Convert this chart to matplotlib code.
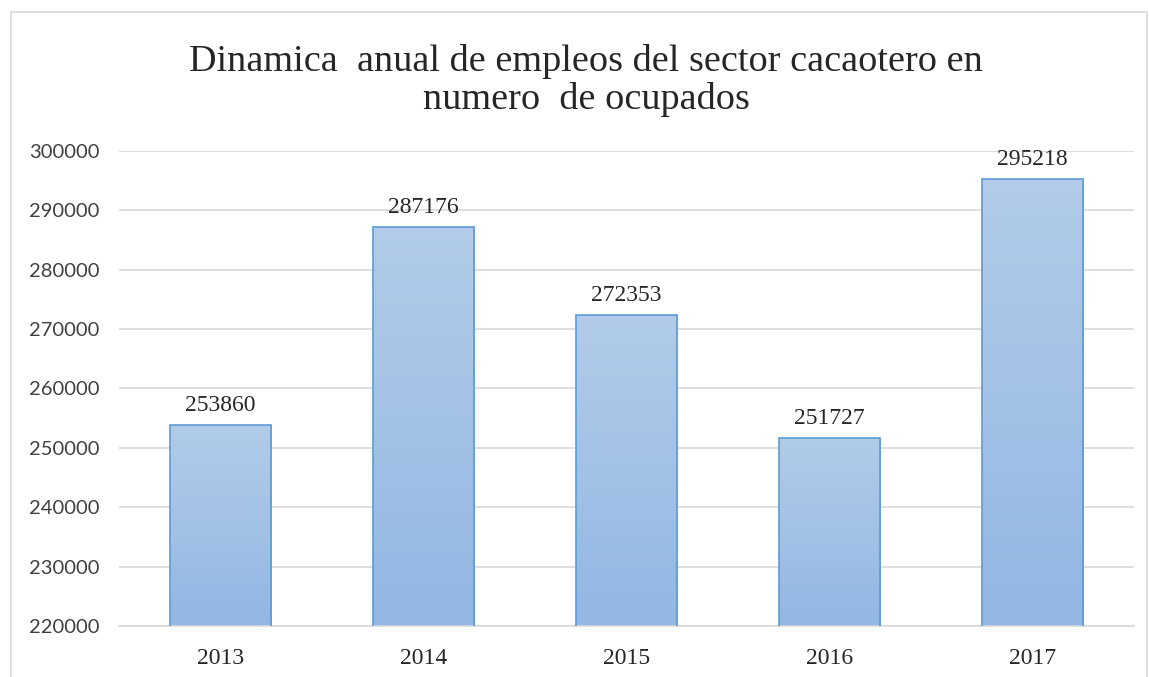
import matplotlib.pyplot as plt
import numpy as np
from matplotlib.colors import LinearSegmentedColormap
from matplotlib.patches import Rectangle

years = ['2013', '2014', '2015', '2016', '2017']
ocupados = [253860, 287176, 272353, 251727, 295218]
title = 'Dinamica  anual de empleos del sector cacaotero en\nnumero  de ocupados'

serif = 'Liberation Serif'

fig = plt.figure(figsize=(11.49, 6.77), dpi=100)
ax = fig.add_axes([0.1036, 0.0753, 0.8833, 0.7017])

# chart frame like the Excel chart area
fig.patches.append(Rectangle((11 / 1149, -0.05), 1136 / 1149, 1.05 - 12 / 677,
                             transform=fig.transFigure, fill=False,
                             edgecolor='#d9d9d9', linewidth=1.2))

x = np.arange(len(years))
bars = ax.bar(x, ocupados, width=0.5, color='none', edgecolor='#5b9bd5',
              linewidth=1.2, zorder=3)

# vertical gradient inside each bar
cmap = LinearSegmentedColormap.from_list('grad', ['#92b7e3', '#b2cce9'])
grad = np.linspace(0, 1, 256).reshape(-1, 1)
for b in bars:
    x0, w, h = b.get_x(), b.get_width(), b.get_height()
    im = ax.imshow(grad, cmap=cmap, origin='lower', aspect='auto',
                   extent=(x0, x0 + w, 220000, h), zorder=2)
    im.set_clip_path(b)
    ax.text(x0 + w / 2, h + 1500, str(h), ha='center', va='bottom',
            fontsize=17, family=serif, color='#262626')

ax.set_xlim(-0.5, len(years) - 0.5)
ax.set_ylim(220000, 300000)
ax.set_yticks(np.arange(220000, 300001, 10000))
ax.set_yticklabels([str(v) for v in range(220000, 300001, 10000)],
                   family='Lato', fontsize=14.5, color='#404040')
ax.set_xticks(x)
ax.set_xticklabels(years, family=serif, fontsize=17, color='#262626')
ax.tick_params(length=0)
ax.tick_params(axis='y', pad=14)
ax.tick_params(axis='x', pad=16)
ax.grid(axis='y', color='#d9d9d9', linewidth=1.2, zorder=0)
ax.set_axisbelow(True)
for side in ['top', 'right', 'left']:
    ax.spines[side].set_visible(False)
ax.spines['bottom'].set_color('#d9d9d9')
ax.spines['bottom'].set_linewidth(1.2)

fig.text(0.51, 0.935, title, ha='center', va='top', family=serif,
         fontsize=27.5, color='#262626', linespacing=1.1)

fig.savefig('out.png', dpi=100)
